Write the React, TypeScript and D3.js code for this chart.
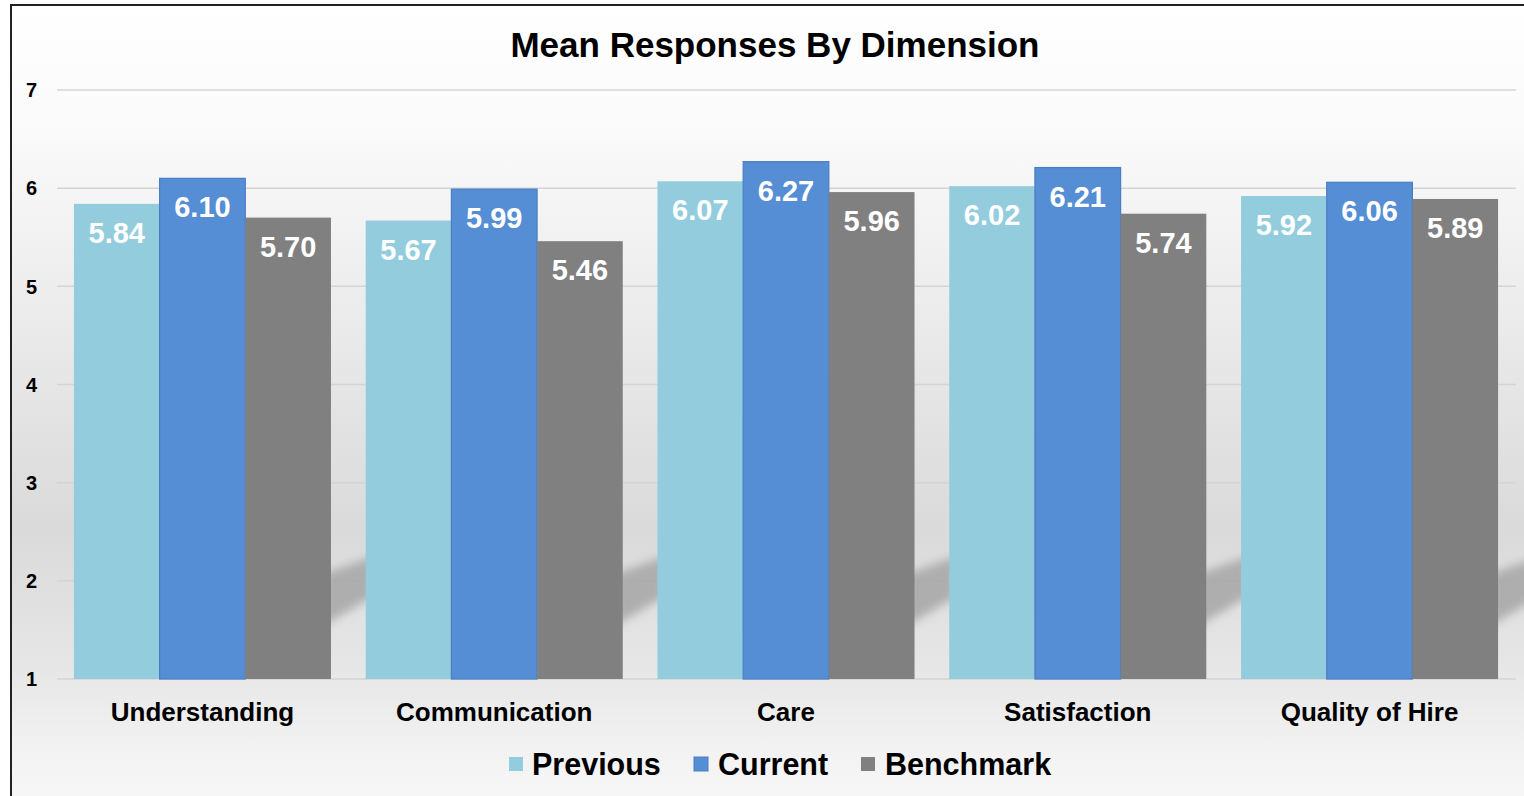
import React from "react";
import * as d3 from "d3";

const categories = ["Understanding", "Communication", "Care", "Satisfaction", "Quality of Hire"];
const seriesNames = ["Previous", "Current", "Benchmark"];
const previousValues = [5.84, 5.67, 6.07, 6.02, 5.92];
const currentValues = [6.1, 5.99, 6.27, 6.21, 6.06];
const benchmarkValues = [5.7, 5.46, 5.96, 5.74, 5.89];
const yTicks = [1, 2, 3, 4, 5, 6, 7];
const seriesColors = ["#93CDDD", "#558ED5", "#808080"];
const seriesStroke = ["none", "#4A7EC2", "none"];

const W = 1524;
const H = 796;
const FONT = "'Liberation Sans', Arial, Helvetica, sans-serif";

export default function App() {
  const seriesValues = [previousValues, currentValues, benchmarkValues];
  const x0 = d3.scaleBand<string>().domain(categories).range([57, 1515]).paddingInner(0.119).paddingOuter(0.058);
  const x1 = d3.scaleBand<string>().domain(seriesNames).range([0, x0.bandwidth()]).padding(0);
  const y = d3.scaleLinear().domain([1, 7]).range([679, 90]);

  const legendItems = [
    { name: "Previous", sx: 509, tx: 532 },
    { name: "Current", sx: 694, tx: 718 },
    { name: "Benchmark", sx: 861, tx: 885 },
  ];

  return (
    <svg width={W} height={H} style={{ position: "absolute", left: 0, top: 0 }} fontFamily={FONT}>
      <defs>
        <linearGradient id="bg" x1="0" y1="0" x2="0" y2="1">
          <stop offset="0" stopColor="#ffffff" />
          <stop offset="0.15" stopColor="#fafafa" />
          <stop offset="0.4" stopColor="#e9e9e9" />
          <stop offset="0.62" stopColor="#dadada" />
          <stop offset="0.78" stopColor="#e6e6e6" />
          <stop offset="0.88" stopColor="#f2f2f2" />
          <stop offset="1" stopColor="#fcfcfc" />
        </linearGradient>
        <filter id="blur" x="-50%" y="-50%" width="200%" height="200%">
          <feGaussianBlur stdDeviation="5" />
        </filter>
      </defs>
      <rect x={0} y={0} width={W} height={H} fill="#ffffff" />
      <rect x={11} y={5} width={W + 50} height={H + 50} fill="url(#bg)" stroke="#222" strokeWidth={2} />

      {/* gridlines */}
      {yTicks.map((t) => (
        <line key={t} x1={57} x2={1516} y1={y(t)} y2={y(t)} stroke="#d4d4d4" strokeWidth={1.5} />
      ))}

      {/* decorative shadows in gaps */}
      {categories.map((c) => {
        const gl = (x0(c) as number) + x0.bandwidth();
        const gr = gl + x0.step() - x0.bandwidth();
        return (
          <polygon
            key={"sh" + c}
            points={`${gl - 8},${574} ${gr + 8},${556} ${gr + 8},${596} ${gl - 8},${626}`}
            fill="#a6a6a6"
            filter="url(#blur)"
            opacity={0.85}
          />
        );
      })}

      {/* bars */}
      {categories.map((c, ci) => (
        <g key={c} transform={`translate(${x0(c)},0)`}>
          {seriesNames.map((s, si) => {
            const v = seriesValues[si][ci];
            const bx = x1(s) as number;
            const by = y(v);
            return (
              <g key={s}>
                <rect
                  x={bx}
                  y={by}
                  width={x1.bandwidth()}
                  height={y(1) - by}
                  fill={seriesColors[si]}
                  stroke={seriesStroke[si]}
                  strokeWidth={1.2}
                />
                <text
                  x={bx + x1.bandwidth() / 2}
                  y={by + 39}
                  textAnchor="middle"
                  fill="#ffffff"
                  fontWeight="bold"
                  fontSize={29}
                >
                  {v.toFixed(2)}
                </text>
              </g>
            );
          })}
        </g>
      ))}

      {/* y tick labels */}
      {yTicks.map((t) => (
        <text key={"yt" + t} x={37} y={y(t)} dy="0.36em" textAnchor="end" fontWeight="bold" fontSize={20} fill="#000">
          {t}
        </text>
      ))}

      {/* category labels */}
      {categories.map((c) => (
        <text
          key={"xl" + c}
          x={(x0(c) as number) + x0.bandwidth() / 2}
          y={721}
          textAnchor="middle"
          fontWeight="bold"
          fontSize={26}
          fill="#000"
        >
          {c}
        </text>
      ))}

      {/* title */}
      <text x={775} y={57} textAnchor="middle" fontWeight="bold" fontSize={35} fill="#000">
        Mean Responses By Dimension
      </text>

      {/* legend */}
      {legendItems.map((l, i) => (
        <g key={l.name}>
          <rect x={l.sx} y={757} width={14} height={14} fill={seriesColors[i]} stroke={seriesStroke[i]} strokeWidth={1} />
          <text x={l.tx} y={775} fontWeight="bold" fontSize={30.5} fill="#000">
            {l.name}
          </text>
        </g>
      ))}
    </svg>
  );
}
